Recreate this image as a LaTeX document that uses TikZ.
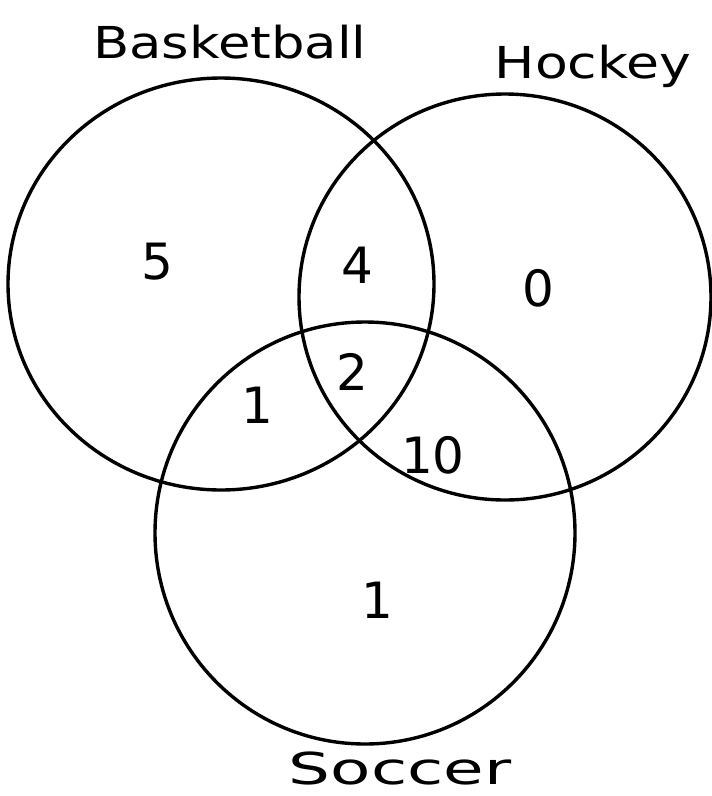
\documentclass[tikz,border=0pt]{standalone}
\usepackage{fontspec}
\setmainfont{DejaVu Sans}
\usetikzlibrary{shapes.geometric}
\begin{document}
\begin{tikzpicture}[x=1pt,y=-1pt,
  venn/.style={draw=black,line width=3.4pt},
  lbl/.style={font=\fontsize{44}{46}\selectfont},
  num/.style={font=\fontsize{50}{52}\selectfont}]
\useasboundingbox (0,0) rectangle (712,796);
\fill[white] (0,0) rectangle (712,796);
\node[venn,ellipse,minimum width=426pt,minimum height=412pt,inner sep=0pt] (bask) at (221,284) {};
\node[venn,ellipse,minimum width=412pt,minimum height=406pt,inner sep=0pt] (hock) at (505,297) {};
\node[venn,ellipse,minimum width=420pt,minimum height=422pt,inner sep=0pt] (socc) at (365,533) {};
\node[lbl] (lb) at (230,42) {\scalebox{1.2}[1]{Basketball}};
\node[lbl] (lh) at (593,66) {\scalebox{1.22}[1]{Hockey}};
\node[lbl] (ls) at (400,768) {\scalebox{1.5}[1]{Soccer}};
\node[num] (n5) at (157,262) {5};
\node[num] (n4) at (357,265) {4};
\node[num] (n0) at (538,288) {0};
\node[num] (n2) at (352,372) {2};
\node[num] (n1a) at (257,405) {1};
\node[num] (n10) at (433,455) {10};
\node[num] (n1b) at (377,600) {1};
\end{tikzpicture}
\end{document}
